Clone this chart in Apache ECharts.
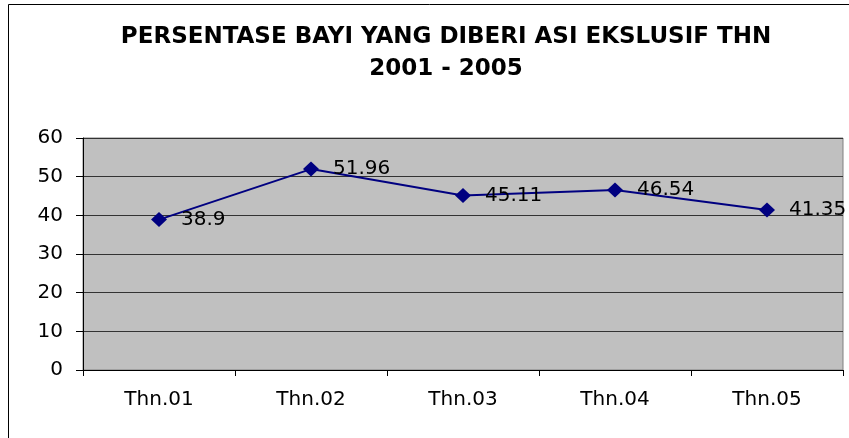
<!DOCTYPE html>
<html>
<head>
<meta charset="utf-8">
<script src="https://cdn.jsdelivr.net/npm/echarts@6/dist/echarts.min.js"></script>
<style>
  html, body { margin: 0; padding: 0; background: #fff; }
  #chart { width: 849px; height: 438px; }
</style>
</head>
<body>
<div id="chart"></div>
<script>
const categories = ['Thn.01', 'Thn.02', 'Thn.03', 'Thn.04', 'Thn.05']
const persentase = [38.9, 51.96, 45.11, 46.54, 41.35]
const titleLines = ['PERSENTASE BAYI YANG DIBERI ASI EKSLUSIF THN', '2001 - 2005']

// the original is a stretched Arial; DejaVu Sans is close to that width
const font = '"DejaVu Sans", sans-serif'
const chart = echarts.init(document.getElementById('chart'))

chart.setOption({
  animation: false,
  textStyle: { fontFamily: font },
  title: {
    text: titleLines.join('\n'),
    left: 441,
    textAlign: 'center',
    top: 16,
    textStyle: {
      fontFamily: font,
      fontSize: 23,
      fontWeight: 'bold',
      color: '#000',
      lineHeight: 32,
    },
  },
  graphic: [
    {
      type: 'rect',
      shape: { x: 8.5, y: 4.5, width: 900, height: 500 },
      style: { fill: 'none', stroke: '#000', lineWidth: 1 },
      silent: true,
    },
  ],
  grid: {
    left: 83,
    top: 138,
    width: 760,
    height: 232,
    show: true,
    backgroundColor: '#c0c0c0',
    borderColor: '#808080',
    borderWidth: 1,
  },
  xAxis: {
    type: 'category',
    data: categories,
    boundaryGap: true,
    axisLine: { lineStyle: { color: '#000', width: 1 } },
    axisTick: { show: true, length: 6, lineStyle: { color: '#000' } },
    axisLabel: { color: '#000', fontSize: 20, margin: 20 },
  },
  yAxis: {
    type: 'value',
    min: 0,
    max: 60,
    interval: 10,
    axisLine: { show: true, lineStyle: { color: '#000', width: 1 } },
    axisTick: { show: true, length: 7, lineStyle: { color: '#000' } },
    axisLabel: { color: '#000', fontSize: 20, margin: 20 },
    splitLine: { show: true, lineStyle: { color: '#333', width: 1 } },
  },
  series: [
    {
      type: 'line',
      data: persentase,
      symbol: 'diamond',
      symbolSize: [16, 15],
      itemStyle: { color: '#000080' },
      lineStyle: { color: '#000080', width: 2 },
      label: {
        show: true,
        position: 'right',
        distance: 14,
        color: '#000',
        fontSize: 20,
        formatter: p => String(p.value),
      },
    },
  ],
})
</script>
</body>
</html>
